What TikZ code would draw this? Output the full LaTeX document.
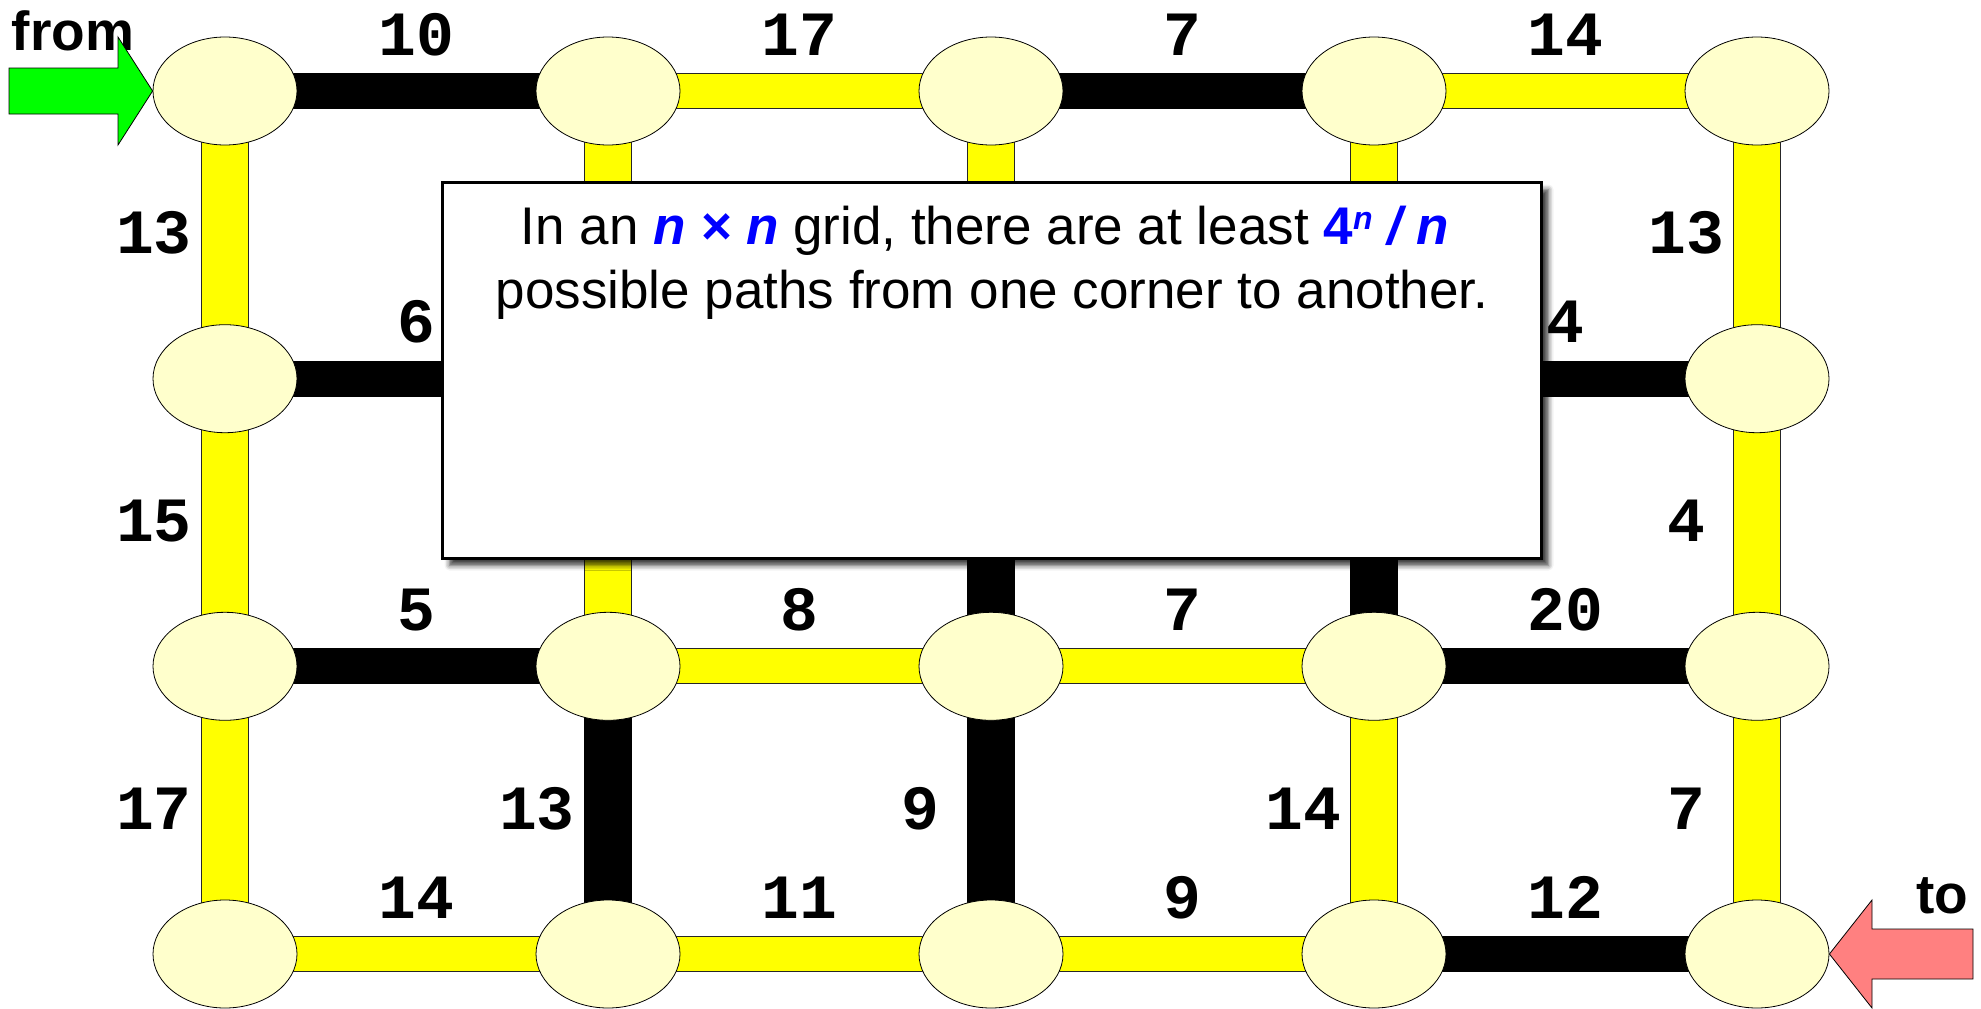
\documentclass[tikz,border=0pt]{standalone}
\usepackage{fontspec}
\setmainfont{Liberation Sans}
\newfontfamily\numfont{Liberation Mono}
\usetikzlibrary{shapes.geometric,shadows.blur}
\definecolor{nodefill}{RGB}{255,255,204}
\definecolor{pathyellow}{RGB}{255,255,0}
\definecolor{arrowgreen}{RGB}{0,255,0}
\definecolor{arrowred}{RGB}{255,128,128}
\definecolor{mathblue}{RGB}{0,0,255}
\begin{document}
\begin{tikzpicture}[x=1pt,y=-1pt,
  vtx/.style={ellipse, draw=black, line width=0.8pt, fill=nodefill,
    minimum width=144pt, minimum height=108pt, inner sep=0pt},
  hyel/.style={draw=black!85, line width=1pt, double=pathyellow, double distance=34pt},
  vyel/.style={draw=black!85, line width=1pt, double=pathyellow, double distance=46pt},
  hblk/.style={draw=black, line width=36pt},
  vblk/.style={draw=black, line width=48pt},
  numlab/.style={font=\numfont\bfseries\fontsize{63}{63}\selectfont, anchor=base, inner sep=0pt},
  hlab/.style={numlab, yshift=36pt},
  vlab/.style={numlab, xshift=-71pt, yshift=-19pt},
  bigword/.style={font=\bfseries\fontsize{55}{55}\selectfont, anchor=base, inner sep=0pt},
  notebox/.style={draw=black, line width=3pt, fill=white, minimum width=1099pt,
    minimum height=376pt, inner sep=0pt,
    blur shadow={shadow xshift=7pt, shadow yshift=-7pt, shadow blur radius=5pt, shadow opacity=75}},
  notetext/.style={font=\fontsize{53}{64}\selectfont, anchor=base, inner sep=0pt},
  arrowshape/.style={draw=black, line width=0.8pt}
]
\useasboundingbox (0,0) rectangle (1981,1009);

% grid points
\coordinate (n11) at (225,91);
\coordinate (n12) at (608,91);
\coordinate (n13) at (991,91);
\coordinate (n14) at (1374,91);
\coordinate (n15) at (1757,91);
\coordinate (n21) at (225,378.7);
\coordinate (n22) at (608,378.7);
\coordinate (n23) at (991,378.7);
\coordinate (n24) at (1374,378.7);
\coordinate (n25) at (1757,378.7);
\coordinate (n31) at (225,666.3);
\coordinate (n32) at (608,666.3);
\coordinate (n33) at (991,666.3);
\coordinate (n34) at (1374,666.3);
\coordinate (n35) at (1757,666.3);
\coordinate (n41) at (225,954);
\coordinate (n42) at (608,954);
\coordinate (n43) at (991,954);
\coordinate (n44) at (1374,954);
\coordinate (n45) at (1757,954);

% row 1
\draw[hblk] (n11) -- node[hlab] (l1) {10} (n12);
\draw[hyel] (n12) -- node[hlab] (l2) {17} (n13);
\draw[hblk] (n13) -- node[hlab] (l3) {7} (n14);
\draw[hyel] (n14) -- node[hlab] (l4) {14} (n15);
% row 2
\draw[hblk] (n21) -- node[hlab] (l5) {6} (n22);
\draw[hblk] (n24) -- node[hlab] (l6) {4} (n25);
% row 3
\draw[hblk] (n31) -- node[hlab] (l7) {5} (n32);
\draw[hyel] (n32) -- node[hlab] (l8) {8} (n33);
\draw[hyel] (n33) -- node[hlab] (l9) {7} (n34);
\draw[hblk] (n34) -- node[hlab] (l10) {20} (n35);
% row 4
\draw[hyel] (n41) -- node[hlab] (l11) {14} (n42);
\draw[hyel] (n42) -- node[hlab] (l12) {11} (n43);
\draw[hyel] (n43) -- node[hlab] (l13) {9} (n44);
\draw[hblk] (n44) -- node[hlab] (l14) {12} (n45);
% verticals rows 1-2
\draw[vyel] (n11) -- node[vlab] (l15) {13} (n21);
\draw[vyel] (n12) -- (n22);
\draw[vyel] (n13) -- (n23);
\draw[vyel] (n14) -- (n24);
\draw[vyel] (n15) -- node[vlab] (l16) {13} (n25);
% verticals rows 2-3
\draw[vyel] (n21) -- node[vlab] (l17) {15} (n31);
\draw[vyel] (n22) -- (n32);
\draw[vblk] (n23) -- (n33);
\draw[vblk] (n24) -- (n34);
\draw[vyel] (n25) -- node[vlab] (l18) {4} (n35);
% verticals rows 3-4
\draw[vyel] (n31) -- node[vlab] (l19) {17} (n41);
\draw[vblk] (n32) -- node[vlab] (l20) {13} (n42);
\draw[vblk] (n33) -- node[vlab] (l21) {9} (n43);
\draw[vyel] (n34) -- node[vlab] (l22) {14} (n44);
\draw[vyel] (n35) -- node[vlab] (l23) {7} (n45);

% vertices
\foreach \r/\c in {1/1,1/2,1/3,1/4,1/5,2/1,2/5,3/1,3/2,3/3,3/4,3/5,4/1,4/2,4/3,4/4,4/5}
  \node[vtx] (v\r\c) at (n\r\c) {};

% from / to
\node[bigword] (fromlbl) at (73,50) {from};
\node[bigword] (tolbl) at (1942,913) {to};

% arrows
\draw[arrowshape, fill=arrowgreen] (v11.west) -- (118,37) -- (118,68) -- (9,68)
  -- (9,114) -- (118,114) -- (118,145) -- cycle;
\draw[arrowshape, fill=arrowred] (v45.east) -- (1872,900) -- (1872,929) -- (1973,929)
  -- (1973,979) -- (1872,979) -- (1872,1008) -- cycle;

% note box
\node[notebox] (note) at (992,370.5) {};
\node[notetext] (line1) at (985,244) {In an \textcolor{mathblue}{\bfseries\itshape n × n} grid, there are at least \textcolor{mathblue}{\bfseries 4\raisebox{15pt}{\fontsize{32}{32}\selectfont\itshape n} \itshape/ n}};
\node[notetext] (line2) at (992,308) {possible paths from one corner to another.};
\end{tikzpicture}
\end{document}
